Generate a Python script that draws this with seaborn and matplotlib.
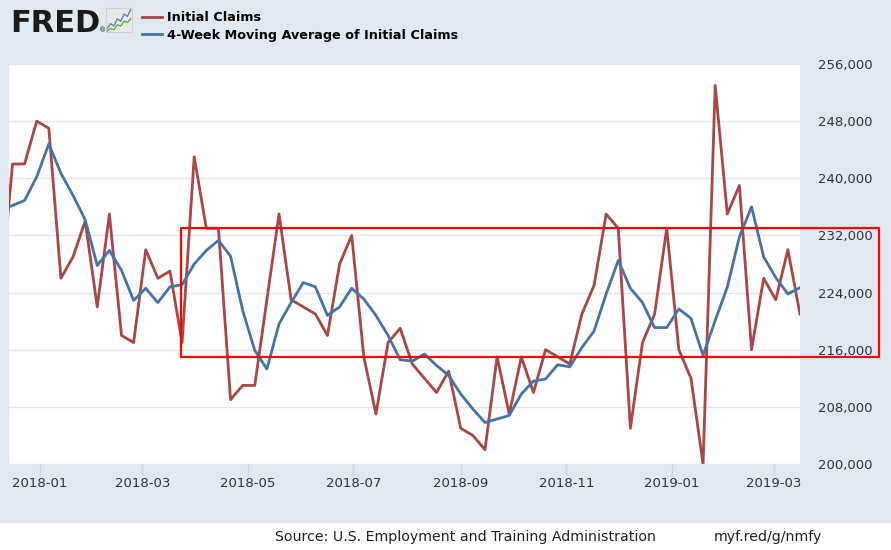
import pandas as pd
import seaborn as sns
import matplotlib.pyplot as plt
import matplotlib.dates as mdates
from matplotlib.patches import Rectangle
from matplotlib.ticker import FuncFormatter

# weekly data, week ending saturday
first_week = '2017-12-09'
last_week = '2019-03-16'

initial_claims = [
    223000, 242000, 242000, 248000, 247000, 226000, 229000, 234000, 222000, 235000,
    218000, 217000, 230000, 226000, 227000, 217000, 243000, 233000, 233000, 209000,
    211000, 211000, 223000, 235000, 223000, 222000, 221000, 218000, 228000, 232000,
    215000, 207000, 217000, 219000, 214000, 212000, 210000, 213000, 205000, 204000,
    202000, 215000, 207000, 215000, 210000, 216000, 215000, 214000, 221000, 225000,
    235000, 233000, 205000, 217000, 221000, 233000, 216000, 212000, 200000, 253000,
    235000, 239000, 216000, 226000, 223000, 230000, 221000]

moving_avg = [
    235500, 236200, 236900, 240200, 244800, 240700, 237600, 234200, 227800, 229900,
    227100, 222900, 224600, 222600, 224800, 225100, 228000, 229900, 231300, 229100,
    221500, 215900, 213300, 219600, 222600, 225400, 224800, 220800, 222000, 224600,
    223100, 220800, 218000, 214600, 214400, 215400, 213800, 212400, 209800, 207700,
    205800, 206300, 206800, 209800, 211600, 211900, 213900, 213600, 216300, 218600,
    223800, 228500, 224600, 222600, 219100, 219100, 221700, 220400, 215200, 220100,
    224750, 231800, 236000, 229000, 226100, 223800, 224700]

series_names = ['Initial Claims', '4-Week Moving Average of Initial Claims']
series_colors = ['#aa4643', '#4572a7']

y_ticks = [200000, 208000, 216000, 224000, 232000, 240000, 248000, 256000]
x_limits = ['2017-12-14', '2019-03-16']

# the highlighted band (red box drawn on top)
box_low, box_high = 215000, 233000
box_start = '2018-03-23 10:00'
box_days = 403

# little chart icon next to the logo
icon_blue = [2, 4, 3, 6, 5, 8, 7, 10]
icon_green = [1, 2, 1.5, 3.5, 3, 5, 4.5, 6]

source_text = 'Source: U.S. Employment and Training Administration'
link_text = 'myf.red/g/nmfy'

weeks = pd.date_range(first_week, last_week, freq='W-SAT')
df = pd.concat([
    pd.DataFrame({'date': weeks, 'claims': initial_claims, 'series': series_names[0]}),
    pd.DataFrame({'date': weeks, 'claims': moving_avg, 'series': series_names[1]}),
])

bg = '#e1e9f0'
fig = plt.figure(figsize=(8.91, 5.5), dpi=100, facecolor=bg)
W, H = 891, 550

# white strip at the bottom for the source line
fig.patches.append(Rectangle((0, 0), 1, 27 / H, transform=fig.transFigure,
                             facecolor='white', edgecolor='none', zorder=0))

ax = fig.add_axes([9 / W, 1 - 464 / H, 791 / W, 400 / H])
ax.set_facecolor('white')

sns.lineplot(data=df, x='date', y='claims', hue='series', hue_order=series_names,
             palette=series_colors, linewidth=2.0, legend=False, ax=ax)

ax.set_xlim(pd.Timestamp(x_limits[0]), pd.Timestamp(x_limits[1]))
ax.set_ylim(y_ticks[0], y_ticks[-1])
ax.set_yticks(y_ticks)
ax.yaxis.set_major_formatter(FuncFormatter(lambda v, p: '{:,.0f}'.format(v)))
ax.yaxis.tick_right()
ax.tick_params(axis='y', length=0, pad=13, labelsize=9.5, labelcolor='#333333')
ax.grid(axis='y', color='#e6e6e6', linewidth=1)
ax.grid(axis='x', visible=False)

ax.xaxis.set_major_locator(mdates.MonthLocator(bymonth=[1, 3, 5, 7, 9, 11]))
ax.xaxis.set_major_formatter(mdates.DateFormatter('%Y-%m'))
ax.tick_params(axis='x', length=8.5, width=1, color='#ccd6eb', pad=1,
               labelsize=9.5, labelcolor='#333333')
ax.set_xlabel('')
ax.set_ylabel('')
for s in ax.spines.values():
    s.set_visible(False)

ax.add_patch(Rectangle((mdates.date2num(pd.Timestamp(box_start)), box_low),
                       box_days, box_high - box_low, fill=False,
                       edgecolor='red', linewidth=1.6, clip_on=False, zorder=5))

# header: FRED logo + legend
fig.text(10 / W, 1 - 32 / H, 'FRED', fontsize=22, fontweight='black',
         color='#1a1a1a', ha='left', va='baseline')
fig.text(99 / W, 1 - 32 / H, '®', fontsize=5, color='#1a1a1a', ha='left', va='baseline')
icon = fig.add_axes([106 / W, 1 - 32 / H, 26 / W, 24 / H])
icon.set_facecolor('#e8e8e8')
icon.plot(icon_blue, color='#5b86b8', linewidth=1)
icon.plot(icon_green, color='#6aab3c', linewidth=1)
icon.set_xticks([])
icon.set_yticks([])
for s in icon.spines.values():
    s.set_color('#cfcfcf')

handles = ax.get_lines()[:2]
fig.legend(handles, series_names, loc='upper left',
           bbox_to_anchor=(142 / W, 1 - 11 / H), frameon=False,
           prop={'weight': 'bold', 'size': 9.2}, handlelength=1.55,
           handletextpad=0.4, labelspacing=0.38, borderpad=0, borderaxespad=0)

fig.text(275 / W, 13.5 / H, source_text, fontsize=10.2, color='#222222',
         ha='left', va='center')
fig.text(714 / W, 13.5 / H, link_text, fontsize=10.2, color='#222222',
         ha='left', va='center')

fig.savefig('out.png', dpi=100, facecolor=bg)
